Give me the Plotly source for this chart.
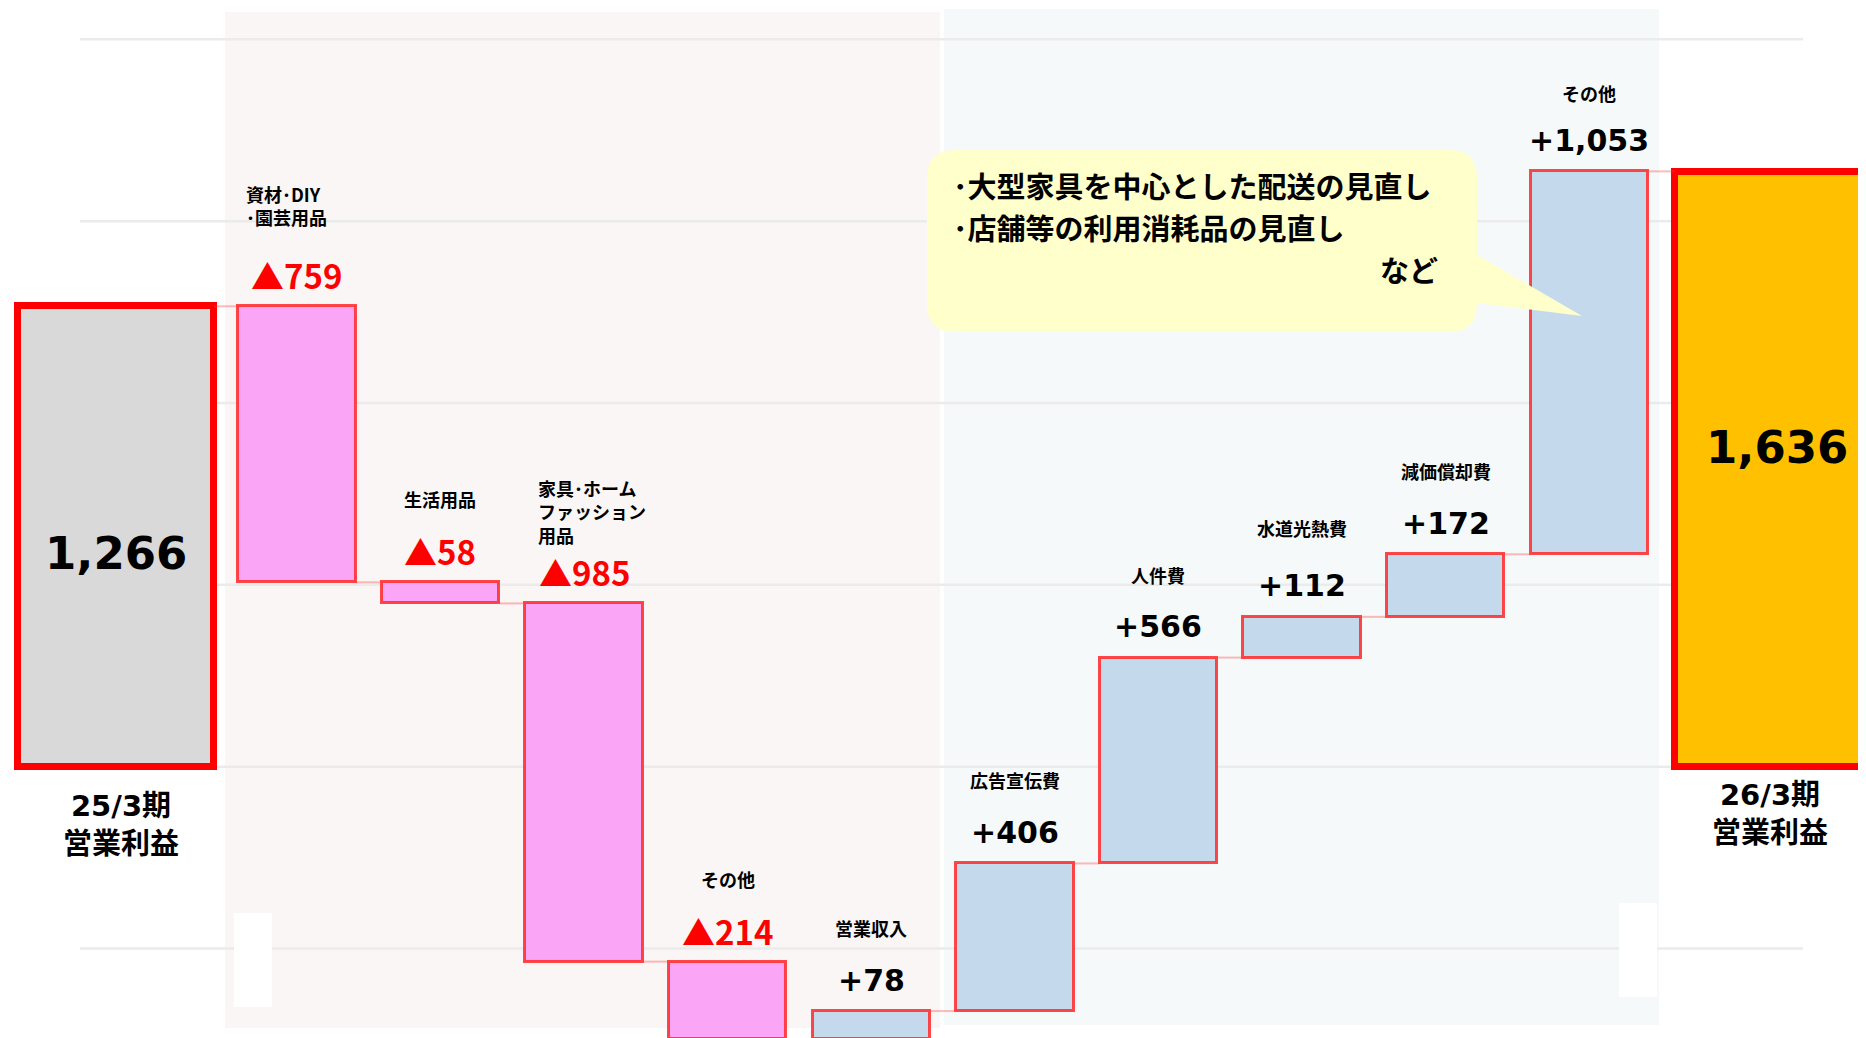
import plotly.graph_objects as go

# ---------------- data ----------------
categories = [
    "25/3期<br>営業利益",
    "資材･DIY<br>･園芸用品",
    "生活用品",
    "家具･ホーム<br>ファッション<br>用品",
    "その他",
    "営業収入",
    "広告宣伝費",
    "人件費",
    "水道光熱費",
    "減価償却費",
    "その他",
    "26/3期<br>営業利益",
]
start_value = 1266
changes = [-759, -58, -985, -214, 78, 406, 566, 112, 172, 1053]
end_value = 1636
grid_values = [-500, 0, 500, 1000, 1500, 2000]
note_lines = ["･大型家具を中心とした配送の見直し", "･店舗等の利用消耗品の見直し"]
note_tail = "など"

# ---------------- layout constants ----------------
W, H = 1866, 1038
OFF = 8  # page body margin compensation
JP = "Noto Sans CJK JP"
NUM = "DejaVu Sans, Noto Sans CJK JP"

def px(x, y):
    """reference pixel -> paper coordinates (margins are zero)"""
    return (x - OFF) / W, 1 - (y - OFF) / H

# derived series (waterfall)
ys = [start_value] + changes + [end_value]
bases = [0]
cum = start_value
for c in changes:
    bases.append(cum)
    cum += c
bases.append(0)
levels = [b + v for b, v in zip(bases, ys)]           # level after each bar
tops = [b + max(v, 0) for b, v in zip(bases, ys)]     # top edge of each bar

n = len(ys)
x_pos = [1 - 1.252] + [i + 0.008 for i in range(1, n - 1)] + [(n - 2) + 1.29]
widths = [1.37] + [0.817] * (n - 2) + [1.37]

fills = ["#D9D9D9"] + ["#FAA5F5" if c < 0 else "#C5D9ED" for c in changes] + ["#FFC000"]
line_cols = ["#FF0000"] + ["rgba(255,40,40,0.85)"] * (n - 2) + ["#FF0000"]
line_ws = [7] + [3] * (n - 2) + [7]

# per-label fine placement (px): index -> (xshift, extra yshift)
label_nudge = {1: (-10, 6), 3: (8, -15), 8: (0, 6), 10: (0, -5)}

fig = go.Figure()

fig.add_trace(go.Bar(
    x=x_pos, y=ys, base=bases, width=widths,
    marker=dict(color=fills, line=dict(color=line_cols, width=line_ws)),
    hoverinfo="skip", showlegend=False,
))

# connectors
cx, cy = [], []
for i in range(n - 1):
    cx += [x_pos[i] + widths[i] / 2, x_pos[i + 1] - widths[i + 1] / 2, None]
    cy += [levels[i], levels[i], None]
fig.add_trace(go.Scatter(
    x=cx, y=cy, mode="lines",
    line=dict(color="rgba(255,60,60,0.35)", width=2),
    hoverinfo="skip", showlegend=False,
))

shapes = []
# background panels
x0, y0 = px(225, 1028); x1, y1 = px(940, 12)
shapes.append(dict(type="rect", xref="paper", yref="paper", x0=x0, x1=x1, y0=y0, y1=y1,
                   fillcolor="#FAF6F5", line=dict(width=0), layer="below"))
x0, y0 = px(944, 1025); x1, y1 = px(1659, 9)
shapes.append(dict(type="rect", xref="paper", yref="paper", x0=x0, x1=x1, y0=y0, y1=y1,
                   fillcolor="#F5F9FA", line=dict(width=0), layer="below"))
# gridlines
gx0, _ = px(80, 0); gx1, _ = px(1803, 0)
for g in grid_values:
    shapes.append(dict(type="line", xref="paper", yref="y", x0=gx0, x1=gx1, y0=g, y1=g,
                       line=dict(color="#EBEBEB", width=2.5), layer="below"))
# white patches
for (a, b, c, d) in [(234, 913, 272, 1007), (1619, 903, 1657, 997)]:
    xa, ya = px(a, d); xb, yb = px(c, b)
    shapes.append(dict(type="rect", xref="paper", yref="paper", x0=xa, x1=xb, y0=ya, y1=yb,
                       fillcolor="#FFFFFF", line=dict(width=0), layer="below"))

# callout bubble
L, R, T, B, r = 927, 1477, 150, 332, 28
def P(x, y):
    a, b = px(x, y)
    return f"{a:.5f},{b:.5f}"
path = (f"M {P(L + r, T)} L {P(R - r, T)} Q {P(R, T)} {P(R, T + r)} "
        f"L {P(R, 255)} L {P(1582, 316)} L {P(R, 303)} "
        f"L {P(R, B - r)} Q {P(R, B)} {P(R - r, B)} L {P(L + r, B)} Q {P(L, B)} {P(L, B - r)} "
        f"L {P(L, T + r)} Q {P(L, T)} {P(L + r, T)} Z")
shapes.append(dict(type="path", xref="paper", yref="paper", path=path,
                   fillcolor="#FFFFCC", line=dict(width=0), layer="above"))

annotations = []
# value labels and category labels for change bars
for i in range(1, n - 1):
    v = ys[i]
    if v < 0:
        txt, col, fam, size = f"<b>▲{abs(v):,}</b>", "#FF0000", JP, 33
    else:
        txt, col, fam, size = f"<b>+{v:,}</b>", "#000000", NUM, 30
    annotations.append(dict(x=x_pos[i], y=tops[i], xref="x", yref="y", text=txt, showarrow=False,
                            xanchor="center", yanchor="middle", yshift=31,
                            font=dict(family=fam, size=size, color=col)))
    nx, ny = label_nudge.get(i, (0, 0))
    annotations.append(dict(x=x_pos[i], y=tops[i], xref="x", yref="y",
                            text=f"<b>{categories[i]}</b>", showarrow=False,
                            xanchor="center", yanchor="bottom", yshift=68 + ny, xshift=nx, align="left",
                            font=dict(family=JP, size=18, color="#000000")))

# totals: big numbers and labels below
for i, ysh, xsh, lsh in [(0, -17, 0, -58), (n - 1, 22, 4, -47)]:
    annotations.append(dict(x=x_pos[i], y=ys[i] / 2, xref="x", yref="y", text=f"<b>{ys[i]:,}</b>",
                            showarrow=False, xanchor="center", yanchor="middle", yshift=ysh, xshift=xsh,
                            font=dict(family=NUM, size=45, color="#000000")))
    annotations.append(dict(x=x_pos[i], y=0, xref="x", yref="y", text=f"<b>{categories[i]}</b>",
                            showarrow=False, xanchor="center", yanchor="middle", yshift=lsh,
                            xshift=(5 if i == 0 else -3),
                            font=dict(family=NUM, size=29, color="#000000")))

# callout text (separate lines, spaced so their boxes do not collide)
for line, yy in zip(note_lines, [185, 227]):
    a, b = px(952, yy)
    annotations.append(dict(x=a, y=b, xref="paper", yref="paper", text=f"<b>{line}</b>",
                            showarrow=False, xanchor="left", yanchor="middle", borderpad=0,
                            font=dict(family=JP, size=29, color="#000000")))
a, b = px(1439, 269)
annotations.append(dict(x=a, y=b, xref="paper", yref="paper", text=f"<b>{note_tail}</b>",
                        showarrow=False, xanchor="right", yanchor="middle", borderpad=0,
                        font=dict(family=JP, size=29, color="#000000")))

fig.update_layout(
    width=W, height=H, autosize=False,
    margin=dict(l=0, r=0, t=0, b=0, pad=0),
    paper_bgcolor="#FFFFFF", plot_bgcolor="#FFFFFF",
    xaxis=dict(visible=False, range=[-1.0035, 11.991], fixedrange=True),
    yaxis=dict(visible=False, range=[-768.0, 2086.2], fixedrange=True),
    shapes=shapes, annotations=annotations,
    bargap=0, showlegend=False,
)

fig.write_html("out.html")
